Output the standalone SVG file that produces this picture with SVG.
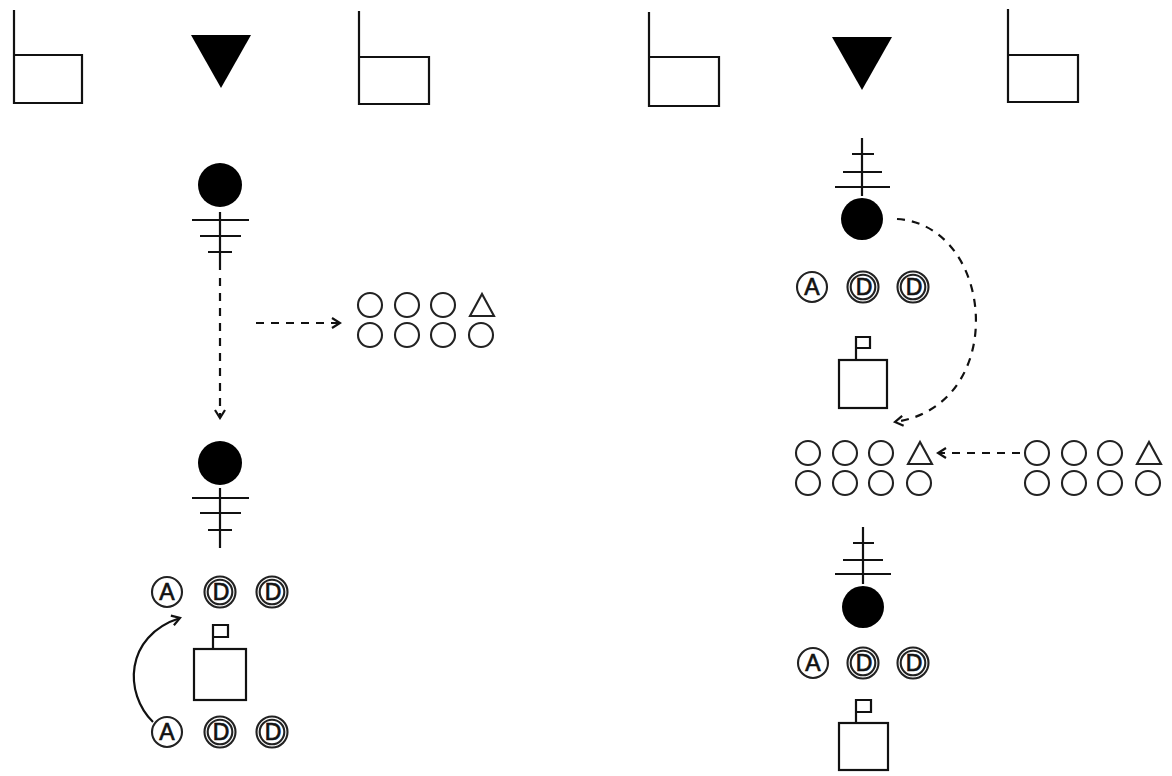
<svg xmlns="http://www.w3.org/2000/svg" width="1172" height="776" viewBox="0 0 1172 776">
<style>
.ln{stroke:#111;stroke-width:2.2;fill:none}
.o{stroke:#222;stroke-width:2.1;fill:#fff}
.dash{stroke:#111;stroke-width:2.2;fill:none;stroke-dasharray:8 7}
.blk{fill:#000}
.t{font-family:"Liberation Sans",Arial,sans-serif;font-size:23px;fill:#111;stroke:#111;stroke-width:0.7;text-anchor:middle}
</style>
<defs>
<marker id="ah" viewBox="0 0 12 12" refX="10" refY="6" markerWidth="12" markerHeight="12" markerUnits="userSpaceOnUse" orient="auto">
<path d="M2,1 L10,6 L2,11" fill="none" stroke="#111" stroke-width="2.2"/>
</marker>
<g id="pA"><circle r="15" class="o"/><text y="8.3" class="t" font-size="23">A</text></g>
<g id="pD"><circle r="15.5" class="o"/><circle r="12.3" class="o"/><text x="1" y="8.3" class="t" font-size="22">D</text></g>
<g id="grp">
<circle cx="0" cy="0" r="12" class="o"/><circle cx="37" cy="0" r="12" class="o"/><circle cx="73" cy="0" r="12" class="o"/>
<path d="M100,11 L124,11 L112,-11 Z" class="o"/>
<circle cx="0" cy="30" r="12" class="o"/><circle cx="37" cy="30" r="12" class="o"/><circle cx="73" cy="30" r="12" class="o"/><circle cx="111" cy="30" r="12" class="o"/>
</g>
</defs>
<rect width="1172" height="776" fill="#fff"/>

<g id="chair1"><path d="M14,10 V103 H82 V55 H14" class="ln"/></g>
<g id="cone1"><path d="M191,35 H251 L221,88 Z" class="blk"/></g>
<g id="chair2"><path d="M359,11 V104 H429 V57 H359" class="ln"/></g>
<g id="chair3"><path d="M649,12 V106 H719 V57 H649" class="ln"/></g>
<g id="cone2"><path d="M832,37 H892 L862,90 Z" class="blk"/></g>
<g id="chair4"><path d="M1008,9 V102 H1078 V55 H1008" class="ln"/></g>

<g id="player1"><circle cx="220" cy="185" r="22" class="blk"/>
<path d="M220,212 V270 M192,220 H249 M200,236 H241 M208,252 H232" class="ln"/></g>
<g id="player2"><circle cx="220" cy="463" r="22" class="blk"/>
<path d="M220,488 V548 M192,498 H249 M200,513 H241 M208,530 H232" class="ln"/></g>

<g id="group1"><use href="#grp" x="370" y="305"/></g>

<g id="adds1"><use href="#pA" x="167" y="592"/><use href="#pD" x="220" y="592"/><use href="#pD" x="272" y="592"/></g>
<g id="coach1"><rect x="194" y="649" width="52" height="51" class="ln"/><path d="M213,649 V625 H228 V637 H213" class="ln"/></g>
<g id="adds2"><use href="#pA" x="167" y="732"/><use href="#pD" x="220" y="732"/><use href="#pD" x="272" y="732"/></g>

<g id="player3"><circle cx="862" cy="219" r="21" class="blk"/>
<path d="M862,138 V196 M852,154 H874 M843,172 H882 M835,187 H890" class="ln"/></g>
<g id="adds3"><use href="#pA" x="812" y="287"/><use href="#pD" x="863" y="287"/><use href="#pD" x="913" y="287"/></g>
<g id="coach2"><rect x="839" y="360" width="48" height="48" class="ln"/><path d="M856,360 V337 H870 V348 H856" class="ln"/></g>

<g id="group2"><use href="#grp" x="808" y="453"/></g>
<g id="group3"><use href="#grp" x="1037" y="453"/></g>

<g id="player4"><circle cx="863" cy="607" r="21" class="blk"/>
<path d="M863,527 V584 M853,543 H874 M843,560 H883 M835,574 H891" class="ln"/></g>
<g id="adds4"><use href="#pA" x="813" y="663"/><use href="#pD" x="863" y="663"/><use href="#pD" x="913" y="663"/></g>
<g id="coach3"><rect x="839" y="723" width="49" height="47" class="ln"/><path d="M856,723 V700 H871 V712 H856" class="ln"/></g>

<g id="connectors">
<path d="M220,278 V418" class="dash" marker-end="url(#ah)"/>
<path d="M256,323 H340" class="dash" marker-end="url(#ah)"/>
<path d="M153,722 C124,694 124,636 180,618" class="ln" marker-end="url(#ah)"/>
<path d="M897,219 C995,225 1010,405 895,422" class="dash" marker-end="url(#ah)"/>
<path d="M1020,453 H938" class="dash" marker-end="url(#ah)"/>
</g>
</svg>
